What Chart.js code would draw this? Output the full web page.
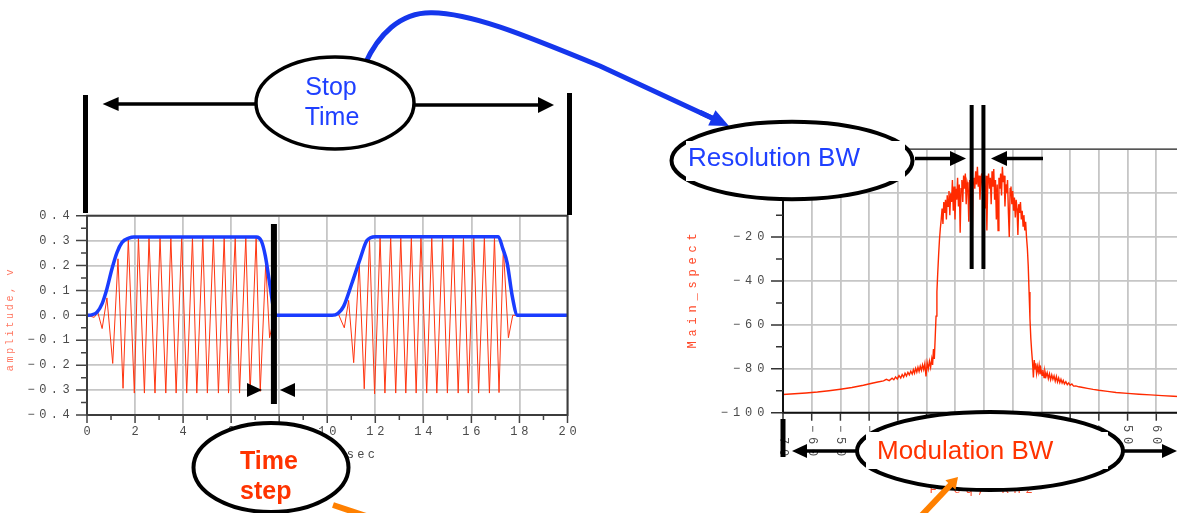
<!DOCTYPE html>
<html>
<head>
<meta charset="utf-8">
<script src="https://cdn.jsdelivr.net/npm/chart.js@4.4.1/dist/chart.umd.min.js"></script>
<style>
  html, body { margin: 0; padding: 0; width: 1177px; height: 513px; overflow: hidden; background: #fff; }
  canvas { position: absolute; }
  #timeChart { left: 0; top: 190px; }
  #specChart { left: 660px; top: 130px; }
  #notes { left: 0; top: 0; z-index: 5; pointer-events: none; }
</style>
</head>
<body>
<canvas id="timeChart" width="576" height="280"></canvas>
<canvas id="specChart" width="540" height="380"></canvas>
<canvas id="notes" width="1177" height="513"></canvas>
<script>
// ---------- time-domain burst (two transmit bursts) ----------
const envTime = [0, 0.2, 0.42, 0.63, 0.83, 1.04, 1.25, 1.46, 1.74, 1.95, 7.05, 7.25, 7.42, 7.62, 7.78, 7.92,
                 10.2, 10.45, 10.68, 11.03, 11.38, 11.65, 12.0, 17.12, 17.3, 17.49, 17.7, 17.92, 20];
const envAmp  = [0, 0.002, 0.013, 0.047, 0.107, 0.187, 0.253, 0.293, 0.31, 0.315, 0.315, 0.3, 0.24, 0.117, 0.02, 0,
                 0, 0.008, 0.036, 0.13, 0.23, 0.3, 0.316, 0.316, 0.27, 0.21, 0.077, 0, 0];

const carrierTime = [0, 0.3, 0.45, 0.63, 0.83, 1.07, 1.29, 1.50, 1.72, 1.97, 2.14, 2.39, 2.58, 2.83, 3.04, 3.28,
                     3.49, 3.71, 3.94, 4.15, 4.39, 4.57, 4.82, 5.01, 5.26, 5.47, 5.71, 5.89, 6.17, 6.35, 6.61, 6.79,
                     7.04, 7.21, 7.44, 7.60, 7.80, 10.2, 10.45, 10.71, 10.89, 11.10, 11.33, 11.54, 11.76, 11.97,
                     12.20, 12.40, 12.64, 12.85, 13.06, 13.27, 13.50, 13.70, 13.90, 14.14, 14.35, 14.56, 14.80,
                     15.00, 15.24, 15.45, 15.67, 15.87, 16.10, 16.30, 16.54, 16.75, 16.96, 17.15, 17.33, 17.54,
                     17.72, 20];
const carrierAmp  = [0, -0.008, 0.012, -0.053, 0.07, -0.193, 0.227, -0.293, 0.307, -0.312, 0.312, -0.312, 0.312,
                     -0.312, 0.312, -0.312, 0.312, -0.312, 0.312, -0.312, 0.312, -0.312, 0.312, -0.312, 0.312,
                     -0.312, 0.312, -0.312, 0.312, -0.312, 0.312, -0.312, 0.312, -0.305, 0.21, -0.09, 0, 0,
                     0.008, -0.05, 0.06, -0.19, 0.21, -0.295, 0.30, -0.315, 0.312, -0.312, 0.312, -0.312, 0.312,
                     -0.312, 0.312, -0.312, 0.312, -0.312, 0.312, -0.312, 0.312, -0.312, 0.312, -0.312, 0.312,
                     -0.312, 0.312, -0.312, 0.312, -0.312, 0.312, -0.31, 0.27, -0.09, 0, 0];

const timeTicks  = [0, 2, 4, 6, 8, 10, 12, 14, 16, 18, 20];
const timeLabels = ['0', '2', '4', '6', '8', '10', '12', '14', '16', '18', '20'];
const ampTicks   = [-0.4, -0.3, -0.2, -0.1, 0, 0.1, 0.2, 0.3, 0.4];
const ampLabels  = ['−0.4', '−0.3', '−0.2', '−0.1', '0.0', '0.1', '0.2', '0.3', '0.4'];

// ---------- spectrum of the burst ----------
const specFreq = [-70, -66, -62, -58, -54, -50, -46, -42, -39, -37, -35, -34, -33, -32, -31.4, -30.8, -30.2, -29.6,
  -29.0, -28.5, -28.0, -27.5, -27.0, -26.5, -26.0, -25.5, -25.0, -24.6, -24.2, -23.8, -23.4, -23.0, -22.6, -22.2,
  -21.8, -21.4, -21.0, -20.6, -20.2, -19.8, -19.4, -19.0, -18.6, -18.2, -17.9, -17.6, -17.3, -17.0, -16.7, -16.4,
  -16.1, -15.8, -15.5, -15.2,
  -14.9, -14.6, -14.3, -14.0, -13.7, -13.4, -13.1, -12.8, -12.5, -12.2, -11.9, -11.6, -11.3, -11.0, -10.7, -10.4,
  -10.1, -9.8, -9.5, -9.2, -8.9, -8.6, -8.3, -8.0, -7.7, -7.4, -7.1, -6.8, -6.5, -6.2, -5.9, -5.6, -5.3, -5.0,
  -4.7, -4.4, -4.1, -3.8, -3.5, -3.2, -2.9, -2.6, -2.3, -2.0, -1.7, -1.4, -1.1, -0.8, -0.5, -0.2, 0.1, 0.4, 0.7,
  1.0, 1.3, 1.6, 1.9, 2.2, 2.5, 2.8, 3.1, 3.4, 3.7, 4.0, 4.3, 4.6, 4.9, 5.2, 5.5, 5.8, 6.1, 6.4, 6.7, 7.0, 7.3,
  7.6, 7.9, 8.2, 8.5, 8.8, 9.1, 9.4, 9.7, 10.0, 10.3, 10.6, 10.9, 11.2, 11.5, 11.8, 12.1, 12.4, 12.7, 13.0, 13.3,
  13.6, 13.9, 14.2, 14.5, 14.8, 15.1, 15.4, 15.7, 16.0, 16.3, 16.6, 16.9, 17.2,
  17.5, 17.8, 18.0, 18.3, 18.6, 18.9, 19.2, 19.5, 19.8, 20.2, 20.5, 20.9, 21.2, 21.6, 22.0, 22.4, 22.8, 23.2,
  23.6, 24.0, 24.4, 24.8, 25.2, 25.6, 26.0, 26.4, 26.8, 27.2, 27.6, 28.0, 28.5, 29.0, 29.5, 30.0, 30.6, 31.2, 32,
  33, 34, 36, 38, 40, 43, 46, 50, 54, 58, 62, 66, 70];
const specDb = [-91.7, -91.4, -91.0, -90.6, -90.0, -89.3, -88.5, -87.5, -86.6, -86.0, -85.5, -84.8, -85.4, -84.3,
  -85.0, -83.7, -84.6, -83.1, -84.2, -82.6, -83.8, -82.0, -83.3, -81.6, -82.8, -81.1, -82.4, -80.4, -82.0, -79.8,
  -81.5, -79.3, -81.2, -78.8, -80.7, -78.2, -80.3, -77.6, -83.5, -77.2, -80.0, -76.5, -79.3, -75.5, -78.2, -71.0,
  -75.5, -66.0, -56.0, -45.0, -36.0, -28.0, -21.0, -16.0,
  -12, -7, -14, -4, -9, -3, -12, -1, -6, 1, -10, 0, -4, 6, -8, 3, -12, 2, -3, 7, -6, 4, -18, 2, 6, -4, 8, 2, 9,
  -5, 5, 3, -13, 6, 1, 8, -19, 5, 7, 2, 10, 4, 12, 3, 8, -3, 6, 9, 1, 7, 3, -7, 8, -17, 5, 9, 2, 7, -5, 10, 3,
  11, -3, 6, -12, 4, -17, 7, 2, 9, -1, 12, 5, 8, -6, 4, 0, 6, -9, -20, 2, 3, -5, 1, -8, -2, -11, -3, -7, -19, -5,
  -9, -4, -12, -8, -15, -10, -17, -13, -20, -25, -33, -45, -57, -66, -72, -77, -84,
  -76, -80, -77.5, -82, -79, -81.5, -78.5, -82.5, -80, -83, -80.5, -84, -81, -83.5, -81.8, -84.5, -82.3, -85,
  -82.8, -84.8, -83.2, -85.6, -83.5, -86, -84.2, -86.3, -84.8, -86.5, -85.3, -86.9, -85.9, -87.2, -86.4, -87.5,
  -86.9, -87.9, -87.8, -88.2, -88.4, -88.9, -89.4, -89.8, -90.3, -90.8, -91.2, -91.6, -91.9, -92.2, -92.5, -92.8];

const freqTicks  = [-70, -60, -50, -40, -30, -20, -10, 0, 10, 20, 30, 40, 50, 60, 70];
const freqLabels = ['−70', '−60', '−50', '−40', '−30', '−20', '−10', '0', '10', '20', '30', '40', '50', '60', '70'];
const dbTicks    = [-100, -80, -60, -40, -20, 0, 20];
const dbLabels   = ['−100', '−80', '−60', '−40', '−20', '0', '20'];

// annotation anchors in data units
const stepMark = 7.78;          // end of the first burst, time step marker
const rbwEdges = [-4.3, -0.2];  // resolution bandwidth, kHz
const modEdge  = -70;           // left end of the modulation span, kHz

// ---------- helpers ----------
const MONO = '12px "Liberation Mono", "DejaVu Sans Mono", monospace';
function spaced(ctx, text, x, y, adv, align) {
  const chars = Array.from(text);
  const w = chars.length * adv;
  const x0 = align === 'right' ? x - w : (align === 'center' ? x - w / 2 : x);
  ctx.textAlign = 'center';
  chars.forEach((c, i) => ctx.fillText(c, x0 + adv * (i + 0.5), y));
}
function pts(xs, ys) { return xs.map((x, i) => ({ x: x, y: ys[i] })); }

const gridStyle = { color: '#c6c6c6', lineWidth: 1.8, drawTicks: false };
const base = {
  responsive: false, animation: false, devicePixelRatio: 1, events: [],
  parsing: false, normalized: true,
  plugins: { legend: { display: false }, tooltip: { enabled: false } },
  elements: { point: { radius: 0 } }
};

// ---------- time-domain chart decorations ----------
const timeDecor = {
  id: 'timeDecor',
  afterDraw(chart) {
    const { ctx, chartArea: a, scales: { x, y } } = chart;
    ctx.save();
    ctx.strokeStyle = '#3c3c3c';
    ctx.lineWidth = 2;
    ctx.strokeRect(a.left, a.top, a.right - a.left, a.bottom - a.top);
    ctx.strokeStyle = '#444';
    ctx.lineWidth = 1.5;
    ctx.beginPath();
    ampTicks.forEach((v, i) => {
      const py = y.getPixelForValue(v);
      ctx.moveTo(a.left - 11, py); ctx.lineTo(a.left, py);
      if (i < ampTicks.length - 1) {
        const pm = y.getPixelForValue(v + 0.05);
        ctx.moveTo(a.left - 6, pm); ctx.lineTo(a.left, pm);
      }
    });
    timeTicks.forEach((v, i) => {
      const px = x.getPixelForValue(v);
      ctx.moveTo(px, a.bottom); ctx.lineTo(px, a.bottom + 8);
      if (i < timeTicks.length - 1) {
        const pm = x.getPixelForValue(v + 1);
        ctx.moveTo(pm, a.bottom); ctx.lineTo(pm, a.bottom + 5);
      }
    });
    ctx.stroke();
    ctx.font = MONO;
    ctx.fillStyle = '#4a4a4a';
    ctx.textBaseline = 'middle';
    ampTicks.forEach((v, i) => spaced(ctx, ampLabels[i], a.left - 15, y.getPixelForValue(v), 11.7, 'right'));
    timeTicks.forEach((v, i) => spaced(ctx, timeLabels[i], x.getPixelForValue(v), a.bottom + 17, 11, 'center'));
    spaced(ctx, 'time, sec', (a.left + a.right) / 2 + 2, a.bottom + 40, 10.5, 'center');
    // y title
    ctx.save();
    ctx.translate(10, (a.top + a.bottom) / 2 + 5);
    ctx.rotate(-Math.PI / 2);
    ctx.font = '10px "Liberation Mono", monospace';
    ctx.fillStyle = 'rgba(255, 70, 40, 0.75)';
    spaced(ctx, 'amplitude, v', 0, 0, 8.7, 'center');
    ctx.restore();
    ctx.restore();
  }
};

const timeChart = new Chart(document.getElementById('timeChart'), {
  type: 'line',
  data: {
    datasets: [
      { data: pts(envTime, envAmp), borderColor: '#1a3cff', borderWidth: 3.5,
        cubicInterpolationMode: 'monotone', pointRadius: 0 },
      { data: pts(carrierTime, carrierAmp), borderColor: '#ff3510', borderWidth: 1,
        tension: 0, pointRadius: 0 }
    ]
  },
  options: Object.assign({}, base, {
    layout: { padding: { left: 87, right: 8.5, top: 25.7, bottom: 55 } },
    scales: {
      x: { type: 'linear', min: 0, max: 20, afterFit: s => { s.height = 0; },
           ticks: { display: false, stepSize: 2 }, grid: gridStyle, border: { display: false } },
      y: { type: 'linear', min: -0.4, max: 0.4, afterFit: s => { s.width = 0; },
           ticks: { display: false, stepSize: 0.1 }, grid: gridStyle, border: { display: false } }
    }
  }),
  plugins: [timeDecor]
});

// ---------- spectrum chart decorations ----------
const specDecor = {
  id: 'specDecor',
  afterDraw(chart) {
    const { ctx, chartArea: a, scales: { x, y } } = chart;
    ctx.save();
    ctx.strokeStyle = '#555';
    ctx.lineWidth = 1.6;
    ctx.beginPath();
    ctx.moveTo(a.left, a.top); ctx.lineTo(a.right, a.top);
    ctx.stroke();
    ctx.strokeStyle = '#111';
    ctx.lineWidth = 2;
    ctx.beginPath();
    ctx.moveTo(a.left, a.top); ctx.lineTo(a.left, a.bottom); ctx.lineTo(a.right, a.bottom); ctx.lineTo(a.right, a.top);
    ctx.stroke();
    ctx.strokeStyle = '#333';
    ctx.lineWidth = 1.5;
    ctx.beginPath();
    dbTicks.forEach((v, i) => {
      const py = y.getPixelForValue(v);
      ctx.moveTo(a.left - 12, py); ctx.lineTo(a.left, py);
      if (i < dbTicks.length - 1) {
        const pm = y.getPixelForValue(v + 10);
        ctx.moveTo(a.left - 7, pm); ctx.lineTo(a.left, pm);
      }
    });
    freqTicks.forEach(v => {
      const px = x.getPixelForValue(v);
      ctx.moveTo(px, a.bottom); ctx.lineTo(px, a.bottom + 8);
    });
    ctx.stroke();
    ctx.font = MONO;
    ctx.fillStyle = '#4a4a4a';
    ctx.textBaseline = 'middle';
    dbTicks.forEach((v, i) => spaced(ctx, dbLabels[i], a.left - 16, y.getPixelForValue(v), 12.2, 'right'));
    freqTicks.forEach((v, i) => {
      ctx.save();
      ctx.translate(x.getPixelForValue(v), a.bottom + 10);
      ctx.rotate(Math.PI / 2);
      spaced(ctx, freqLabels[i], 0, 0, 12, 'left');
      ctx.restore();
    });
    ctx.fillStyle = '#ff4a2a';
    spaced(ctx, 'Freq, KHz', (a.left + a.right) / 2 - 3, a.bottom + 77, 12, 'center');
    ctx.save();
    ctx.translate(33, (a.top + a.bottom) / 2 + 10);
    ctx.rotate(-Math.PI / 2);
    spaced(ctx, 'Main_spect', 0, 0, 12, 'center');
    ctx.restore();
    ctx.restore();
  }
};

const specChart = new Chart(document.getElementById('specChart'), {
  type: 'line',
  data: {
    datasets: [
      { data: pts(specFreq, specDb), borderColor: '#ff2a00', borderWidth: 1.4, tension: 0, pointRadius: 0 }
    ]
  },
  options: Object.assign({}, base, {
    layout: { padding: { left: 123, right: 15, top: 19.3, bottom: 97.3 } },
    scales: {
      x: { type: 'linear', min: -70, max: 70, afterFit: s => { s.height = 0; },
           ticks: { display: false, stepSize: 10 }, grid: gridStyle, border: { display: false } },
      y: { type: 'linear', min: -100, max: 20, afterFit: s => { s.width = 0; },
           ticks: { display: false, stepSize: 20 }, grid: gridStyle, border: { display: false } }
    }
  }),
  plugins: [specDecor]
});

// ---------- call-outs ----------
const n = document.getElementById('notes').getContext('2d');
const BLUE_TXT = '#1f40ff', BLUE_LINE = '#1536ec', RED_TXT = '#ff3300', ORANGE = '#ff8000';

function bubble(cx, cy, rx, ry, lw) {
  n.beginPath();
  n.ellipse(cx, cy, rx, ry, 0, 0, Math.PI * 2);
  n.fillStyle = '#fff';
  n.fill();
  n.lineWidth = lw;
  n.strokeStyle = '#000';
  n.stroke();
}
function arrow(x1, y1, x2, y2, lw, len, half, color) {
  const dx = x2 - x1, dy = y2 - y1, d = Math.hypot(dx, dy);
  const ux = dx / d, uy = dy / d;
  const bx = x2 - ux * len, by = y2 - uy * len;
  n.strokeStyle = color; n.fillStyle = color; n.lineWidth = lw; n.lineCap = 'butt';
  n.beginPath(); n.moveTo(x1, y1); n.lineTo(bx + ux * 2, by + uy * 2); n.stroke();
  n.beginPath();
  n.moveTo(x2, y2);
  n.lineTo(bx - uy * half, by + ux * half);
  n.lineTo(bx + uy * half, by - ux * half);
  n.closePath(); n.fill();
}
function bar(x, y1, y2, w) {
  n.fillStyle = '#000';
  n.fillRect(x - w / 2, y1, w, y2 - y1);
}

// stop time span
bar(85.5, 95, 213, 5);
bar(569.5, 93, 215, 5);
arrow(258, 104, 102.6, 104, 3.5, 16, 7, '#000');
arrow(412, 105, 554, 105, 3.5, 16, 8, '#000');

// link from stop time to resolution bandwidth
n.strokeStyle = BLUE_LINE;
n.lineWidth = 5;
n.lineCap = 'round';
n.beginPath();
n.moveTo(365, 64);
n.bezierCurveTo(378, 35, 400, 12, 432, 12.7);
n.bezierCurveTo(470, 13, 520, 33, 600, 66);
n.lineTo(713, 118.5);
n.stroke();
arrow(700, 112.3, 729, 126, 5, 19, 8.5, BLUE_LINE);

bubble(335, 103, 79, 46, 3.5);
n.fillStyle = BLUE_TXT;
n.font = '25px "Liberation Sans", Arial, sans-serif';
n.textAlign = 'center';
n.textBaseline = 'middle';
n.fillText('Stop', 331, 88);
n.fillText('Time', 332, 118);

// resolution bandwidth
const sx = specChart.scales.x, sOff = 660;
bubble(792, 160.5, 120.5, 38.8, 4);
n.fillStyle = '#fff';
n.fillRect(686, 141, 219, 40);
n.fillStyle = BLUE_TXT;
n.font = '26px "Liberation Sans", Arial, sans-serif';
n.textAlign = 'left';
n.fillText('Resolution BW', 688, 159);
arrow(915, 158.5, 966, 158.5, 3.5, 16, 7.5, '#000');
arrow(1043, 158.5, 991, 158.5, 3.5, 16, 7.5, '#000');
rbwEdges.forEach(f => bar(sOff + sx.getPixelForValue(f), 105, 269, 4));

// time step
const tx = timeChart.scales.x;
bar(tx.getPixelForValue(stepMark), 224, 404, 6);
n.fillStyle = '#000';
n.beginPath(); n.moveTo(247, 383); n.lineTo(247, 397); n.lineTo(262, 390); n.closePath(); n.fill();
n.beginPath(); n.moveTo(295, 383); n.lineTo(295, 397); n.lineTo(280, 390); n.closePath(); n.fill();
bubble(271, 467.5, 77.5, 44.5, 4);
n.fillStyle = RED_TXT;
n.font = 'bold 25px "Liberation Sans", Arial, sans-serif';
n.textAlign = 'left';
n.fillText('Time', 240, 462);
n.fillText('step', 240, 492);
n.strokeStyle = ORANGE; n.lineWidth = 6; n.lineCap = 'butt';
n.beginPath(); n.moveTo(333, 505); n.lineTo(366, 516); n.stroke();

// modulation bandwidth
bar(sOff + sx.getPixelForValue(modEdge), 419, 457, 5);
arrow(858, 451, 792, 451, 3.5, 15, 7, '#000');
arrow(1122, 451, 1177, 451, 3.5, 15, 7, '#000');
bubble(990, 451, 133, 39, 4);
n.fillStyle = '#fff';
n.fillRect(866, 432, 242, 37);
n.fillStyle = RED_TXT;
n.font = '26px "Liberation Sans", Arial, sans-serif';
n.textAlign = 'left';
n.fillText('Modulation BW', 877, 452);
arrow(921, 516, 958, 477, 6, 11, 7, ORANGE);
</script>
</body>
</html>
